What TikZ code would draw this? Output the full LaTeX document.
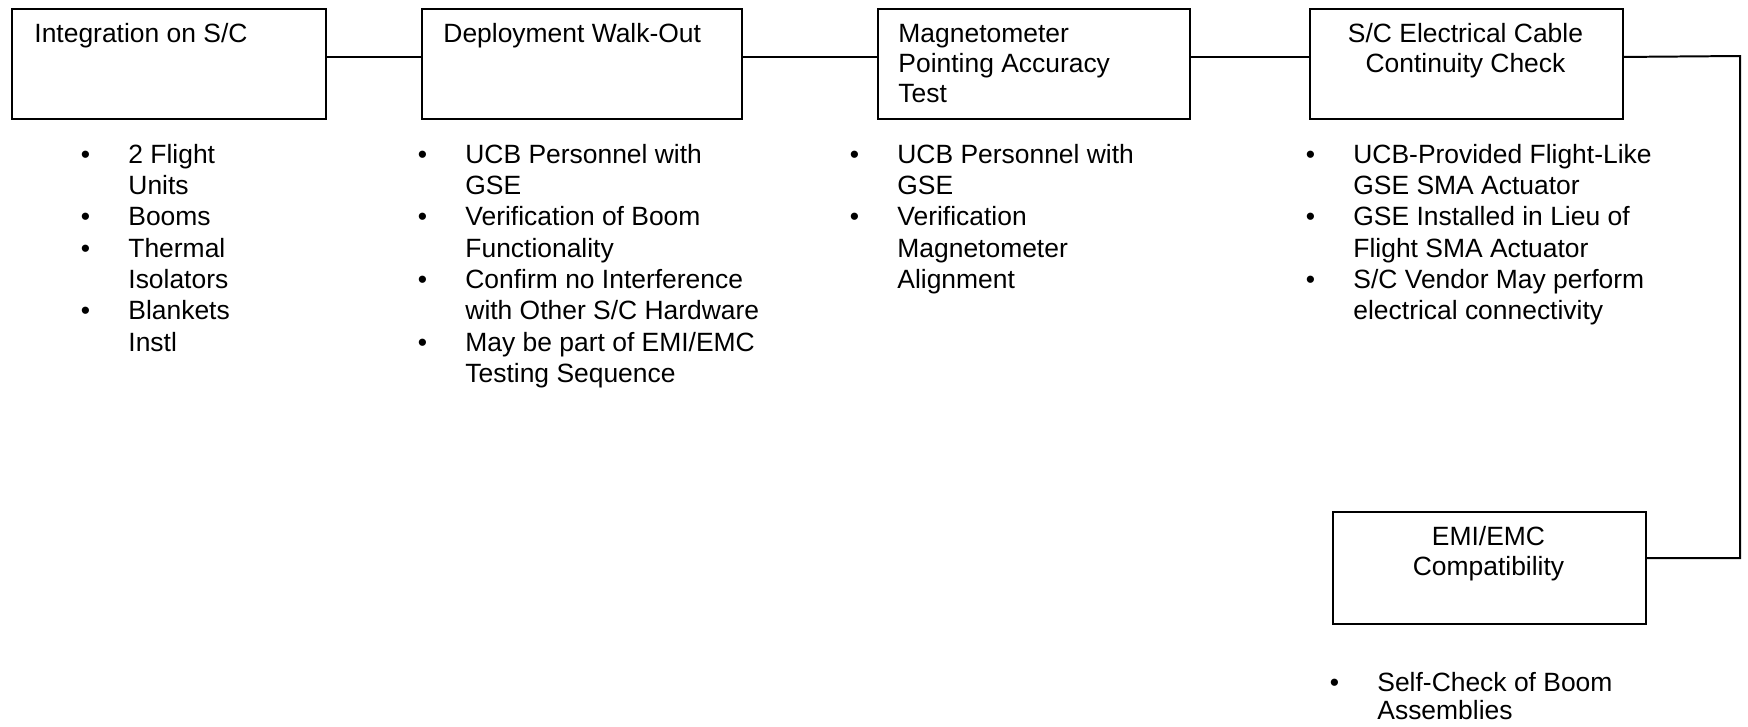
\documentclass[tikz,border=0pt]{standalone}
\usepackage{fontspec}
\setmainfont{Liberation Sans}
\usepackage{array}
\begin{document}
\begin{tikzpicture}[x=0.454pt,y=-0.454pt,
  box/.style={draw,line width=0.9pt,rectangle,inner sep=0pt,anchor=north west,minimum height=110*0.454pt},
  lbl/.style={inner sep=0pt,font=\fontsize{12}{13.8}\selectfont},
  lst/.style={inner sep=0pt,anchor=base west,font=\fontsize{12}{14.25}\selectfont},
  conn/.style={line width=0.9pt}]
\useasboundingbox (0,0) rectangle (1748,726);
\newcommand{\bl}[1]{\begin{tabular}[t]{@{}p{21.6pt}@{}l@{}}#1\end{tabular}}
% boxes
\node[box,minimum width=314*0.454pt] (b1) at (11,8) {};
\node[box,minimum width=320*0.454pt] (b2) at (421,8) {};
\node[box,minimum width=312*0.454pt] (b3) at (877,8) {};
\node[box,minimum width=313*0.454pt] (b4) at (1309,8) {};
\node[box,minimum width=313*0.454pt,minimum height=112*0.454pt] (b5) at (1332,511) {};
% box labels
\node[lbl,anchor=base west] (t1) at (34,42) {Integration on S/C};
\node[lbl,anchor=base west] (t2) at (443,42) {Deployment Walk-Out};
\node[lbl,anchor=base west] (t3) at (898,42) {\begin{tabular}[t]{@{}l@{}}Magnetometer\\Pointing Accuracy\\Test\end{tabular}};
\node[lbl,anchor=base] (t4) at (1465.5,42) {\begin{tabular}[t]{@{}c@{}}S/C Electrical Cable\\Continuity Check\end{tabular}};
\node[lbl,anchor=base] (t5) at (1488.5,545) {\begin{tabular}[t]{@{}c@{}}EMI/EMC\\Compatibility\end{tabular}};
% bullet lists
\node[lst] (l1) at (80.4,163) {\bl{•&2 Flight\\&Units\\•&Booms\\•&Thermal\\&Isolators\\•&Blankets\\&Instl}};
\node[lst] (l2) at (417.4,163) {\bl{•&UCB Personnel with\\&GSE\\•&Verification of Boom\\&Functionality\\•&Confirm no Interference\\&with Other S/C Hardware\\•&May be part of EMI/EMC\\&Testing Sequence}};
\node[lst] (l3) at (849.4,163) {\bl{•&UCB Personnel with\\&GSE\\•&Verification\\&Magnetometer\\&Alignment}};
\node[lst] (l4) at (1305.4,163) {\bl{•&UCB-Provided Flight-Like\\&GSE SMA Actuator\\•&GSE Installed in Lieu of\\&Flight SMA Actuator\\•&S/C Vendor May perform\\&electrical connectivity}};
\node[lst,font=\fontsize{12}{13}\selectfont] (l5) at (1329.4,691) {\bl{•&Self-Check of Boom\\&Assemblies}};
% connectors
\draw[conn] ([yshift=3.2pt]b1.east) -- ([yshift=3.2pt]b2.west);
\draw[conn] ([yshift=3.2pt]b2.east) -- ([yshift=3.2pt]b3.west);
\draw[conn] ([yshift=3.2pt]b3.east) -- ([yshift=3.2pt]b4.west);
\coordinate (turn) at (1740,56);
\draw[conn] ([yshift=3.2pt]b4.east) -- (turn) |- ([yshift=4.5pt]b5.east);
\end{tikzpicture}
\end{document}
